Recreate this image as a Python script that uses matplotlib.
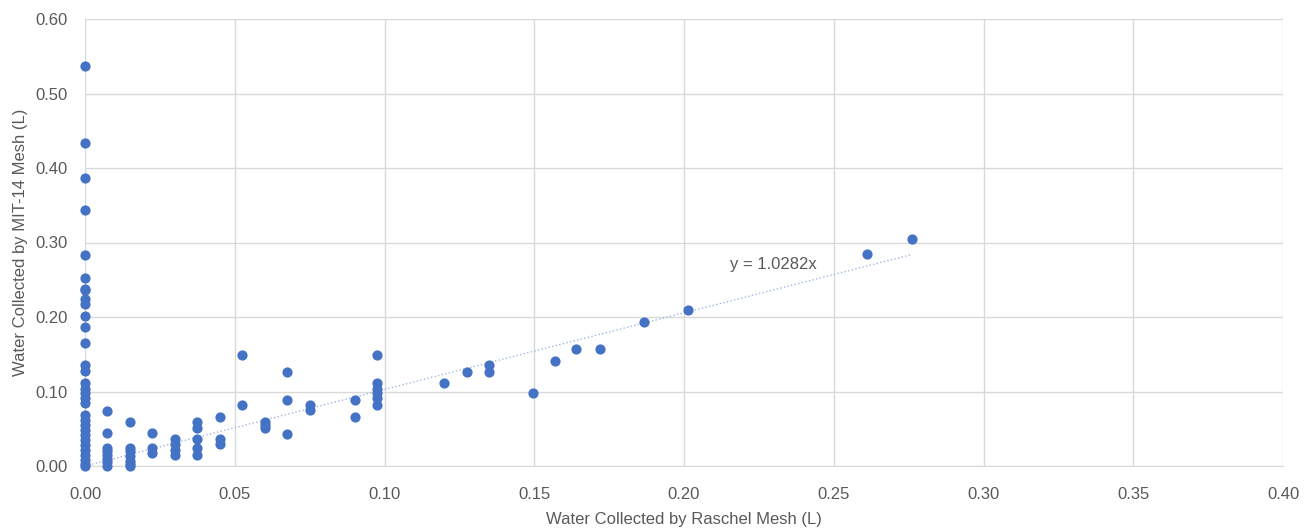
import matplotlib
matplotlib.use("Agg")
import matplotlib.pyplot as plt
import numpy as np

# Raschel mesh (x) vs MIT-14 mesh (y), litres
raschel = [0.0]*32 + [0.0075]*8 + [0.015]*7 + [0.0225]*3 + [0.03]*4 + [0.0375]*5 + [0.045]*3 \
    + [0.0525]*2 + [0.06]*3 + [0.0675]*3 + [0.075]*2 + [0.09]*2 + [0.0975]*6 \
    + [0.12, 0.1275, 0.135, 0.135, 0.1495, 0.157, 0.164, 0.172, 0.1865, 0.2015, 0.261, 0.276]
mit14 = [0.537, 0.433, 0.387, 0.343, 0.283, 0.253, 0.238, 0.236, 0.224, 0.218, 0.201, 0.186,
         0.165, 0.135, 0.128, 0.111, 0.104, 0.098, 0.091, 0.085, 0.068, 0.062, 0.055, 0.048,
         0.042, 0.035, 0.028, 0.022, 0.015, 0.008, 0.003, 0.0] \
    + [0.074, 0.044, 0.024, 0.020, 0.015, 0.010, 0.005, 0.0] \
    + [0.059, 0.024, 0.020, 0.013, 0.007, 0.003, 0.0] \
    + [0.044, 0.024, 0.017] \
    + [0.036, 0.030, 0.022, 0.015] \
    + [0.059, 0.051, 0.036, 0.024, 0.015] \
    + [0.066, 0.036, 0.029] \
    + [0.149, 0.082] \
    + [0.059, 0.055, 0.051] \
    + [0.126, 0.089, 0.043] \
    + [0.082, 0.075] \
    + [0.089, 0.066] \
    + [0.149, 0.111, 0.104, 0.098, 0.091, 0.082] \
    + [0.111, 0.126, 0.135, 0.126, 0.098, 0.141, 0.157, 0.157, 0.193, 0.209, 0.284, 0.305]

slope = 1.0282
x_ticks = [0.00, 0.05, 0.10, 0.15, 0.20, 0.25, 0.30, 0.35, 0.40]
y_ticks = [0.00, 0.10, 0.20, 0.30, 0.40, 0.50, 0.60]

plt.rcParams['font.family'] = ['Liberation Sans', 'DejaVu Sans']
fig = plt.figure(figsize=(13.13, 5.32), dpi=100)
ax = fig.add_axes([85/1313, 66/532, (1283-85)/1313, (466-19)/532])

ax.set_xlim(0, 0.40)
ax.set_ylim(0, 0.60)
ax.set_xticks(x_ticks)
ax.set_yticks(y_ticks)
ax.set_xticklabels([f"{v:.2f}" for v in x_ticks])
ax.set_yticklabels([f"{v:.2f}" for v in y_ticks])
ax.grid(True, color='#d9d9d9', linewidth=1.0)
ax.set_axisbelow(True)
for s in ['top', 'right', 'left']:
    ax.spines[s].set_visible(False)
ax.spines['bottom'].set_color('#d9d9d9')
ax.tick_params(length=0, labelsize=12, labelcolor='#595959')
ax.tick_params(axis='x', pad=15)
ax.tick_params(axis='y', pad=12.5)

ax.scatter(raschel, mit14, s=54, color='#4472C4', zorder=3, clip_on=False, linewidths=0)

xt = np.array([0.0, max(raschel)])
ax.plot(xt, slope*xt, linestyle=':', color='#9fb8e0', linewidth=1.0, zorder=2)
ax.text(0.2154, 0.2705, f"y = {slope}x", fontsize=12, color='#595959', va='center')

ax.set_xlabel("Water Collected by Raschel Mesh (L)", fontsize=12, color='#595959', labelpad=7)
ax.set_ylabel("Water Collected by MIT-14 Mesh (L)", fontsize=12, color='#595959', labelpad=5)

fig.savefig("out.png", dpi=100)
